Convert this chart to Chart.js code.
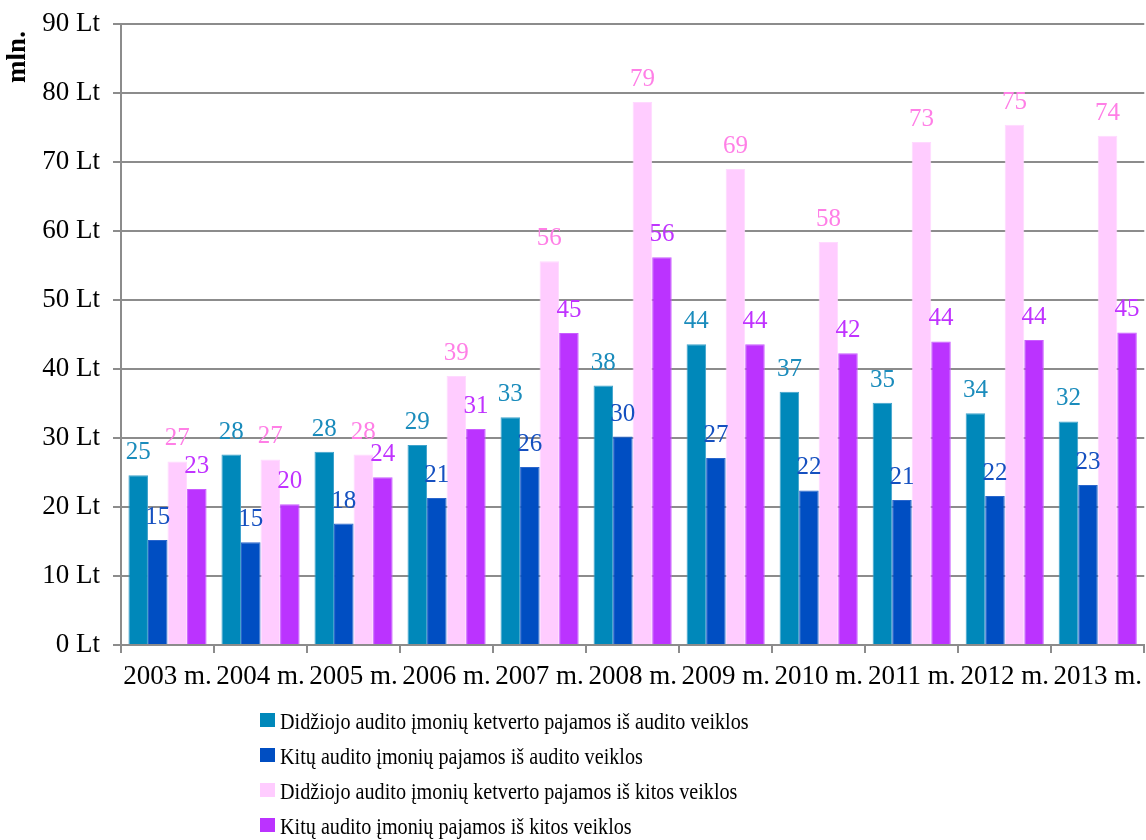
<!DOCTYPE html>
<html>
<head>
<meta charset="utf-8">
<script src="https://cdn.jsdelivr.net/npm/chart.js@4"></script>
<style>
  html, body { margin: 0; padding: 0; background: #fff; overflow: hidden; }
  canvas { display: block; }
</style>
</head>
<body>
<canvas id="chart" width="1150" height="840"></canvas>
<script>
// Audito įmonių pajamos, mln. Lt
const years = ['2003 m.', '2004 m.', '2005 m.', '2006 m.', '2007 m.', '2008 m.',
               '2009 m.', '2010 m.', '2011 m.', '2012 m.', '2013 m.'];
const bigFourAudit = [24.6, 27.6, 28.0, 29.0, 33.0, 37.6, 43.6, 36.7, 35.1, 33.6, 32.4];
const othersAudit  = [15.2, 14.9, 17.6, 21.3, 25.8, 30.2, 27.1, 22.4, 21.0, 21.6, 23.2];
const bigFourOther = [26.6, 26.9, 27.6, 39.0, 55.6, 78.7, 69.0, 58.4, 72.9, 75.4, 73.8];
const othersOther  = [22.6, 20.4, 24.3, 31.3, 45.2, 56.2, 43.6, 42.3, 44.0, 44.2, 45.3];
const seriesNames = [
  'Didžiojo audito įmonių ketverto pajamos iš audito veiklos',
  'Kitų audito įmonių pajamos iš audito veiklos',
  'Didžiojo audito įmonių ketverto pajamos iš kitos veiklos',
  'Kitų audito įmonių pajamos iš kitos veiklos'
];
const yTickValues = [0, 10, 20, 30, 40, 50, 60, 70, 80, 90];
const unitTitle = 'mln.';

const SERIF = '"Liberation Serif", "Times New Roman", serif';
const barColors   = ['#0088ba', '#004ec2', '#ffccff', '#bb33ff'];
const edgeColors  = ['#3fa3cc', '#2a66cc', '#ffd9ff', '#c95cff'];
const labelColors = ['#1b8cbc', '#1550c0', '#ff7fe6', '#c033ff'];
const GRID = '#8c8c8c';

// value labels above every bar, in the series' own colour
const valueLabels = {
  id: 'valueLabels',
  afterDatasetsDraw(chart) {
    const ctx = chart.ctx;
    ctx.save();
    ctx.font = '25px ' + SERIF;
    ctx.textAlign = 'center';
    ctx.textBaseline = 'alphabetic';
    chart.data.datasets.forEach((ds, i) => {
      const meta = chart.getDatasetMeta(i);
      ctx.fillStyle = labelColors[i];
      meta.data.forEach((bar, j) => {
        ctx.fillText(String(Math.round(ds.data[j])), bar.x, bar.y - 16);
      });
    });
    ctx.restore();
  }
};

// rotated unit caption in the top-left corner
const unitCaption = {
  id: 'unitCaption',
  afterDraw(chart) {
    const ctx = chart.ctx;
    ctx.save();
    ctx.translate(18, 57);
    ctx.rotate(-Math.PI / 2);
    ctx.font = 'bold 27px ' + SERIF;
    ctx.fillStyle = '#000';
    ctx.textAlign = 'center';
    ctx.textBaseline = 'middle';
    ctx.fillText(unitTitle, 0, 0);
    ctx.restore();
  }
};

// stacked legend list under the axis, one series per row
const legendList = {
  id: 'legendList',
  afterDraw(chart) {
    const ctx = chart.ctx;
    const x0 = 260, y0 = 713, rowH = 35, squeeze = 0.84;
    ctx.save();
    ctx.font = '24px ' + SERIF;
    ctx.textBaseline = 'middle';
    ctx.textAlign = 'left';
    chart.data.datasets.forEach((ds, i) => {
      const y = y0 + i * rowH;
      ctx.fillStyle = ds.backgroundColor;
      ctx.fillRect(x0, y, 15, 14);
      ctx.save();
      ctx.translate(x0 + 20, y + 10);
      ctx.scale(squeeze, 1);
      ctx.fillStyle = '#000';
      ctx.fillText(ds.label, 0, 0);
      ctx.restore();
    });
    ctx.restore();
  }
};

const datasets = [bigFourAudit, othersAudit, bigFourOther, othersOther].map((vals, i) => ({
  label: seriesNames[i],
  data: vals,
  backgroundColor: barColors[i],
  borderColor: edgeColors[i],
  borderWidth: 1,
  categoryPercentage: 0.84,
  barPercentage: 1.0
}));

new Chart(document.getElementById('chart'), {
  type: 'bar',
  data: { labels: years, datasets },
  options: {
    responsive: false,
    animation: false,
    layout: { padding: { top: 24, right: 0, bottom: 0, left: 0 } },
    plugins: { legend: { display: false }, tooltip: { enabled: false } },
    scales: {
      x: {
        grid: { drawOnChartArea: false, drawTicks: true, tickLength: 8, color: GRID, lineWidth: 2, offset: true },
        border: { color: GRID, width: 2 },
        ticks: { color: '#000', font: { family: SERIF, size: 27 }, padding: 8, maxRotation: 0, autoSkip: false },
        afterFit(scale) { scale.height = 195; }
      },
      y: {
        min: 0,
        max: 90,
        afterBuildTicks(scale) { scale.ticks = yTickValues.map(v => ({ value: v })); },
        ticks: { color: '#000', font: { family: SERIF, size: 27 }, padding: 13, callback: v => v + ' Lt' },
        grid: { color: GRID, lineWidth: 2, tickLength: 8 },
        border: { color: GRID, width: 2 },
        afterFit(scale) {
          scale.width = 121;
          scale.paddingTop = 12;
          scale.paddingBottom = 12;
        }
      }
    }
  },
  plugins: [valueLabels, unitCaption, legendList]
});
</script>
</body>
</html>
